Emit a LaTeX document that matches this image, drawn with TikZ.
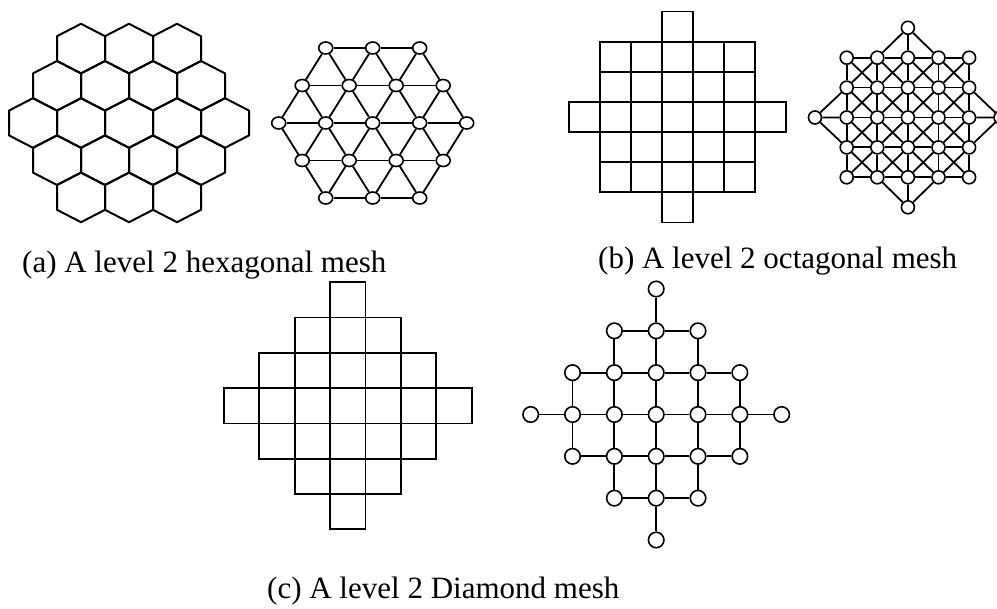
\documentclass[tikz,border=0pt]{standalone}
\usepackage{fontspec}
\setmainfont{Liberation Serif}
\usetikzlibrary{shapes.geometric}
\begin{document}
\begin{tikzpicture}[x=1pt,y=-1pt,
  meshline/.style={line width=2pt, line join=round},
  gridline/.style={line width=1.8pt},
  edge/.style={line width=1.8pt},
  tnode/.style={draw, ellipse, line width=1.6pt, fill=white, minimum width=14pt, minimum height=12pt, inner sep=0pt},
  onode/.style={draw, circle, line width=1.6pt, fill=white, minimum size=13pt, inner sep=0pt},
  dnode/.style={draw, circle, line width=1.6pt, fill=white, minimum size=15.5pt, inner sep=0pt},
  caption/.style={anchor=base west, inner sep=0pt, font=\fontsize{31}{37}\selectfont}]
\useasboundingbox (0,0) rectangle (997,609);

% (a) hexagonal mesh
\foreach \r in {-2,...,2}{
  \pgfmathtruncatemacro\n{5-abs(\r)}
  \foreach \c in {1,...,\n}{
    \pgfmathsetmacro\cx{129+(\c-(\n+1)/2)*48}
    \pgfmathsetmacro\cy{123+\r*37.2}
    \draw[meshline] (\cx,\cy-24.8) -- ++(24,12.4) -- ++(0,24.8) -- ++(-24,12.4) -- ++(-24,-12.4) -- ++(0,-24.8) -- cycle;
  }}

% (a) triangular graph
\foreach \i in {0,...,4}{\foreach \j in {0,...,4}{
  \pgfmathtruncatemacro\s{\i+\j}
  \pgfmathtruncatemacro\ok{(\s>1)&&(\s<7)}
  \ifnum\ok=1
    \node[tnode] (t\i\j) at ({372.7+(\i-2+(\j-2)/2)*47},{123+(\j-2)*37.5}) {};
  \fi}}
\foreach \i in {0,...,4}{\foreach \j in {0,...,4}{
  \pgfmathtruncatemacro\s{\i+\j}
  \pgfmathtruncatemacro\ok{(\s>1)&&(\s<7)}
  \ifnum\ok=1
    \pgfmathtruncatemacro\ip{\i+1}
    \pgfmathtruncatemacro\im{\i-1}
    \pgfmathtruncatemacro\jp{\j+1}
    \pgfmathtruncatemacro\a{(\ip<5)&&(\s+1<7)}
    \ifnum\a=1 \draw[edge] (t\i\j) -- (t\ip\j); \fi
    \pgfmathtruncatemacro\b{(\jp<5)&&(\s+1<7)}
    \ifnum\b=1 \draw[edge] (t\i\j) -- (t\i\jp); \fi
    \pgfmathtruncatemacro\cc{(\im>-1)&&(\jp<5)}
    \ifnum\cc=1 \draw[edge] (t\i\j) -- (t\im\jp); \fi
  \fi}}

% (b) octagonal square mesh
\foreach \r in {0,...,4}{\foreach \c in {0,...,4}{
  \draw[gridline] ({600.3+\c*30.94},{41.7+\r*30.12}) rectangle ++(30.94,30.12);}}
\draw[gridline] ({600.3+2*30.94},{41.7-30.12}) rectangle ++(30.94,30.12);
\draw[gridline] ({600.3+2*30.94},{41.7+5*30.12}) rectangle ++(30.94,30.12);
\draw[gridline] ({600.3-30.94},{41.7+2*30.12}) rectangle ++(30.94,30.12);
\draw[gridline] ({600.3+5*30.94},{41.7+2*30.12}) rectangle ++(30.94,30.12);

% (b) octagonal graph
\foreach \r in {0,...,4}{\foreach \c in {0,...,4}{
  \node[onode] (o\r\c) at ({846.7+\c*30.6},{57.7+\r*29.9}) {};}}
\node[onode] (oT) at (907.9,27.8) {};
\node[onode] (oB) at (907.9,207.3) {};
\node[onode] (oL) at (815,117.5) {};
\node[onode] (oR) at (1000.5,117.5) {};
\foreach \r in {0,...,4}{\foreach \c in {0,...,3}{
  \pgfmathtruncatemacro\d{\c+1}
  \draw[edge] (o\r\c) -- (o\r\d);
  \draw[edge] (o\c\r) -- (o\d\r);}}
\foreach \r in {0,...,3}{\foreach \c in {0,...,3}{
  \pgfmathtruncatemacro\rr{\r+1}
  \pgfmathtruncatemacro\d{\c+1}
  \draw[edge] (o\r\c) -- (o\rr\d);
  \draw[edge] (o\r\d) -- (o\rr\c);}}
\foreach \k in {1,2,3}{
  \draw[edge] (oT) -- (o0\k);
  \draw[edge] (oB) -- (o4\k);
  \draw[edge] (oL) -- (o\k0);
  \draw[edge] (oR) -- (o\k4);}

% (c) diamond square mesh
\foreach \r in {0,...,6}{\foreach \c in {0,...,6}{
  \pgfmathtruncatemacro\ok{abs(\r-3)+abs(\c-3)<4}
  \ifnum\ok=1
    \draw[gridline] ({224+\c*35.39},{282.3+\r*35.29}) rectangle ++(35.39,35.29);
  \fi}}

% (c) diamond graph
\foreach \r in {0,...,6}{\foreach \c in {0,...,6}{
  \pgfmathtruncatemacro\ok{abs(\r-3)+abs(\c-3)<4}
  \ifnum\ok=1
    \node[dnode] (d\r\c) at ({530.7+\c*41.83},{289+\r*41.83}) {};
  \fi}}
\foreach \r in {0,...,6}{\foreach \c in {0,...,6}{
  \pgfmathtruncatemacro\ok{abs(\r-3)+abs(\c-3)<4}
  \ifnum\ok=1
    \pgfmathtruncatemacro\cp{\c+1}
    \pgfmathtruncatemacro\rp{\r+1}
    \pgfmathtruncatemacro\h{abs(\r-3)+abs(\cp-3)<4}
    \ifnum\h=1 \draw[edge] (d\r\c) -- (d\r\cp); \fi
    \pgfmathtruncatemacro\v{abs(\rp-3)+abs(\c-3)<4}
    \ifnum\v=1 \draw[edge] (d\r\c) -- (d\rp\c); \fi
  \fi}}

% captions
\node[caption] (capa) at (22,273) {(a) A level 2 hexagonal mesh};
\node[caption] (capb) at (598,268.3) {(b) A level 2 octagonal mesh};
\node[caption] (capc) at (267,598) {(c) A level 2 Diamond mesh};
\end{tikzpicture}
\end{document}
